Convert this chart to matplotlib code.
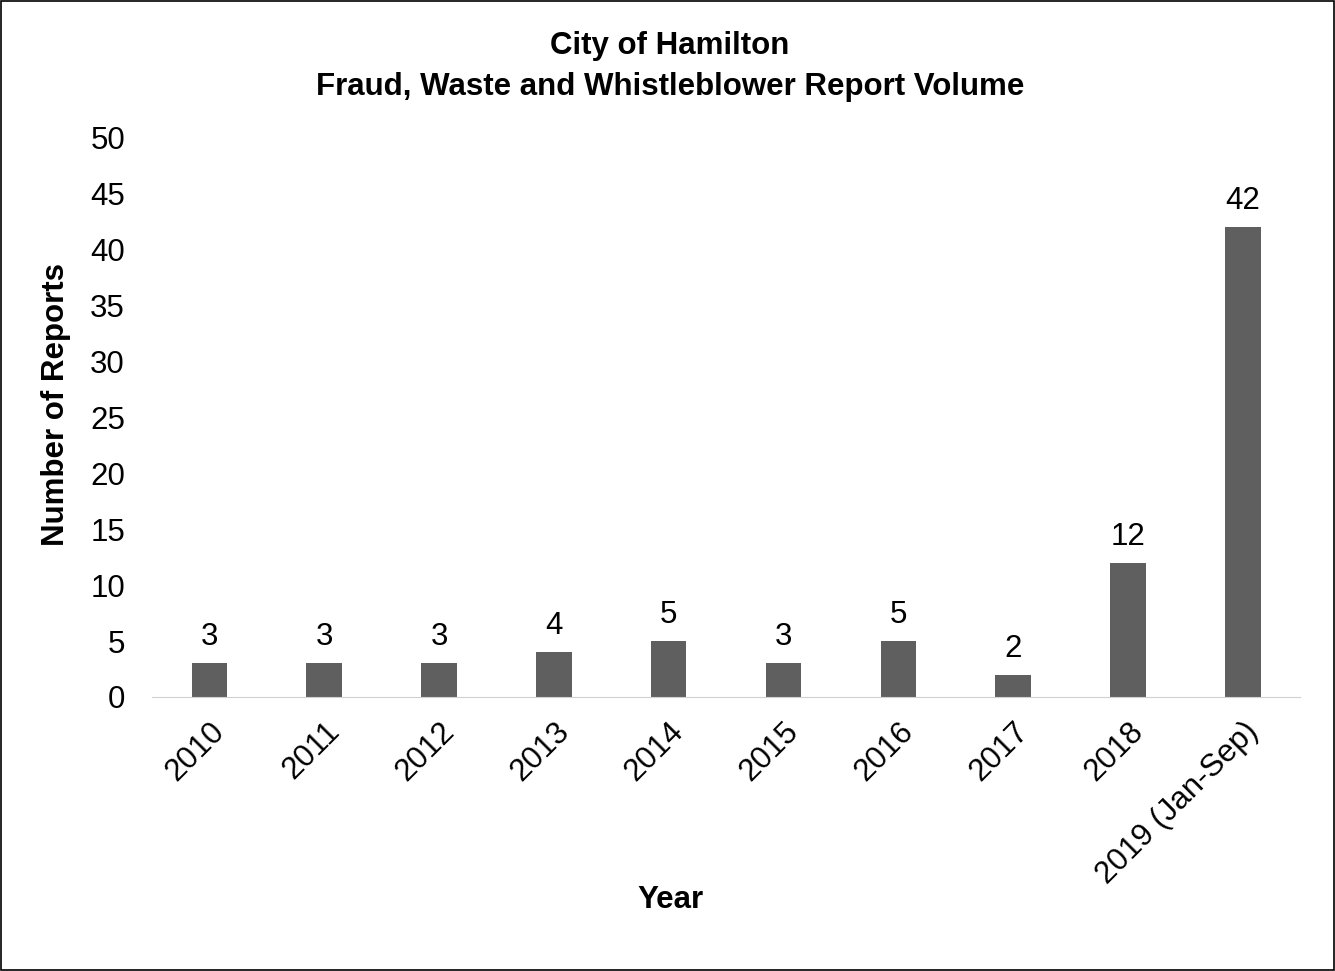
import matplotlib
matplotlib.use("Agg")
import matplotlib.pyplot as plt
from matplotlib.patches import Rectangle
import matplotlib.transforms as mtransforms

# data
years = ["2010", "2011", "2012", "2013", "2014", "2015", "2016", "2017", "2018", "2019 (Jan-Sep)"]
reports = [3, 3, 3, 4, 5, 3, 5, 2, 12, 42]
yticks = list(range(0, 51, 5))

plt.rcParams['font.family'] = ['Liberation Sans', 'DejaVu Sans']
FS = 22.5

fig = plt.figure(figsize=(13.35, 9.71), dpi=100)
ax = fig.add_axes([0.1139, 0.2822, 0.860, 0.5757])

x = range(len(years))
ax.bar(x, reports, width=0.31, color="#5f5f5f")
for xi, v in zip(x, reports):
    ax.annotate(str(v), (xi, v), xytext=(0, 13), textcoords="offset points",
                ha="center", va="baseline", fontsize=FS)

ax.set_xlim(-0.5, len(years) - 0.5)
ax.set_ylim(0, 50)
ax.set_yticks(yticks)
ax.set_xticks(list(x))
ax.set_xticklabels(years, rotation=45, ha="right", va="top", rotation_mode="anchor", fontsize=FS)
shift = mtransforms.ScaledTranslation(4 / 100, 0, fig.dpi_scale_trans)
for lbl in ax.get_xticklabels():
    lbl.set_transform(lbl.get_transform() + shift)
ax.tick_params(axis="y", labelsize=FS, length=0, pad=19.5)
ax.tick_params(axis="x", length=0, pad=14)

for s in ["top", "right", "left"]:
    ax.spines[s].set_visible(False)
ax.spines["bottom"].set_color("#d0d0d0")

fig.text(0.042, 0.583, "Number of Reports", rotation=90, ha="center", va="center",
         fontsize=FS, fontweight="bold")
fig.text(0.502, 0.073, "Year", ha="center", va="center", fontsize=FS, fontweight="bold")
fig.text(0.502, 0.932, "City of Hamilton\nFraud, Waste and Whistleblower Report Volume",
         ha="center", va="center", fontsize=FS, fontweight="bold", linespacing=1.48)

# outer border
fig.patches.append(Rectangle((0.001, 0.001), 0.998, 0.998, transform=fig.transFigure,
                             fill=False, edgecolor="black", linewidth=1.2))

fig.savefig("out.png", dpi=100)
